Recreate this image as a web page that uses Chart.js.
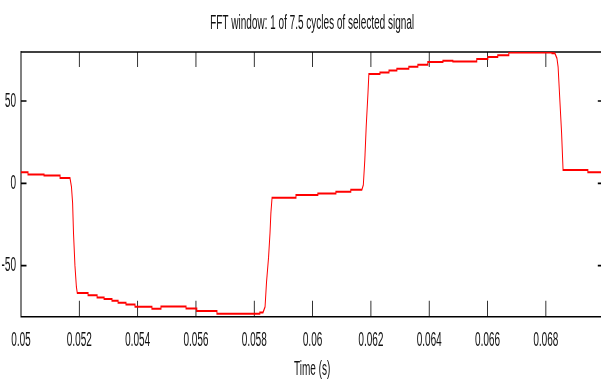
<!DOCTYPE html>
<html>
<head>
<meta charset="utf-8">
<title>FFT window</title>
<script src="https://cdn.jsdelivr.net/npm/chart.js@4/dist/chart.umd.min.js"></script>
<style>
  html, body { margin: 0; padding: 0; background: #fff; overflow: hidden; }
</style>
</head>
<body>
<!-- drawn at double width and squeezed back by css, like the exported figure -->
<canvas id="fftChart" width="1210" height="385" style="width:605px;height:385px"></canvas>
<script>
// selected signal, one window (time in s)
const timeS = [
  0.05000, 0.05024, 0.05024, 0.05079, 0.05079, 0.05134, 0.05134, 0.05168,
  0.05173, 0.05177, 0.05180, 0.05185, 0.05190, 0.05193,
  0.05230, 0.05230, 0.05261, 0.05261, 0.05285, 0.05285, 0.05312, 0.05312,
  0.05333, 0.05333, 0.05360, 0.05360, 0.05391, 0.05391, 0.05449, 0.05449,
  0.05480, 0.05480, 0.05566, 0.05566, 0.05603, 0.05603, 0.05672, 0.05672,
  0.05819, 0.05819, 0.05830,
  0.05837, 0.05842, 0.05849, 0.05854, 0.05857, 0.05861,
  0.05943, 0.05943, 0.06018, 0.06018, 0.06080, 0.06080, 0.06131, 0.06131,
  0.06169, 0.06174, 0.06179, 0.06184, 0.06190, 0.06193,
  0.06231, 0.06231, 0.06262, 0.06262, 0.06289, 0.06289, 0.06330, 0.06330,
  0.06361, 0.06361, 0.06395, 0.06395, 0.06447, 0.06447, 0.06481, 0.06481,
  0.06563, 0.06563, 0.06601, 0.06601, 0.06635, 0.06635, 0.06673, 0.06673,
  0.06821, 0.06821, 0.06831,
  0.06838, 0.06842, 0.06848, 0.06854, 0.06859,
  0.06944, 0.06944, 0.06997
];
const signal = [
  6.8, 6.8, 5.4, 5.4, 4.8, 4.8, 3.2, 3.2,
  -2, -12, -30, -50, -63, -66.6,
  -66.6, -67.9, -67.9, -69.3, -69.3, -70.3, -70.3, -71.3,
  -71.3, -72.5, -72.5, -73.6, -73.6, -75.0, -75.0, -76.2,
  -76.2, -74.8, -74.8, -76.0, -76.0, -77.6, -77.6, -79.2,
  -79.2, -78.4, -78.4,
  -75, -60, -45, -30, -18, -8.7,
  -8.7, -7.1, -7.1, -6.1, -6.1, -5.1, -5.1, -3.9,
  -3.9, -1, 14, 35, 55, 66.4,
  66.4, 67.3, 67.3, 68.5, 68.5, 69.7, 69.7, 70.9,
  70.9, 72.1, 72.1, 73.7, 73.7, 74.5, 74.5, 74.1,
  74.1, 75.5, 75.5, 76.7, 76.7, 77.9, 77.9, 79.5,
  79.5, 79.0, 79.0,
  76, 70.7, 50.5, 30.4, 8.1,
  8.1, 6.7, 6.7
];

const xTickValues = [0.05, 0.052, 0.054, 0.056, 0.058, 0.06, 0.062, 0.064, 0.066, 0.068];
const xTickLabels = ['0.05', '0.052', '0.054', '0.056', '0.058', '0.06', '0.062', '0.064', '0.066', '0.068'];
const yTickValues = [-50, 0, 50];
const yTickLabels = ['-50', '0', '50'];

const xRange = [0.05, 0.06997];
const yRange = [-81, 79.8];

const fontFamily = "'Liberation Sans', Arial, Helvetica, sans-serif";
const tickFont = { family: fontFamily, size: 20 };

// matlab style box: top/right edges and inward tick marks on all sides
const boxTicks = {
  id: 'boxTicks',
  beforeDatasetsDraw(chart) {
    const { ctx, chartArea: a, scales: { x, y } } = chart;
    ctx.save();
    ctx.strokeStyle = '#000';

    ctx.lineWidth = 1.6;
    ctx.beginPath();
    ctx.moveTo(a.left, a.top);
    ctx.lineTo(a.right, a.top);
    ctx.stroke();
    ctx.lineWidth = 2;
    ctx.beginPath();
    ctx.moveTo(a.right, a.top);
    ctx.lineTo(a.right, a.bottom);
    ctx.stroke();

    ctx.lineWidth = 1.6;
    ctx.beginPath();
    x.ticks.forEach(t => {
      const px = x.getPixelForValue(t.value);
      ctx.moveTo(px, a.bottom);
      ctx.lineTo(px, a.bottom - 16);
      ctx.moveTo(px, a.top);
      ctx.lineTo(px, a.top + 15);
    });
    y.ticks.forEach(t => {
      const py = y.getPixelForValue(t.value);
      ctx.moveTo(a.left, py);
      ctx.lineTo(a.left + 11, py);
      ctx.moveTo(a.right, py);
      ctx.lineTo(a.right - 11, py);
    });
    ctx.stroke();
    ctx.restore();
  }
};

new Chart(document.getElementById('fftChart'), {
  type: 'scatter',
  data: {
    datasets: [{
      label: 'signal',
      data: timeS.map((t, i) => ({ x: t, y: signal[i] })),
      showLine: true,
      borderColor: '#ff0000',
      borderWidth: 2,
      pointRadius: 0,
      tension: 0
    }]
  },
  options: {
    responsive: false,
    animation: false,
    layout: { padding: { left: 0, right: 3.4, top: 0, bottom: 0 } },
    plugins: {
      legend: { display: false },
      tooltip: { enabled: false },
      title: {
        display: true,
        text: 'FFT window: 1 of 7.5 cycles of selected signal',
        fullSize: false,
        color: '#111',
        font: { family: fontFamily, size: 20, weight: 'normal' },
        padding: { top: 11, bottom: 17 }
      }
    },
    scales: {
      x: {
        type: 'linear',
        min: xRange[0],
        max: xRange[1],
        afterBuildTicks: s => { s.ticks = xTickValues.map(v => ({ value: v })); },
        afterFit: s => { s.height = 68.3; },
        ticks: {
          callback: (v, i) => xTickLabels[i],
          color: '#111',
          font: tickFont,
          padding: 12,
          maxRotation: 0,
          autoSkip: false
        },
        grid: { drawOnChartArea: false, drawTicks: false },
        border: { display: true, color: '#000', width: 1.6 },
        title: {
          display: true,
          text: 'Time (s)',
          color: '#111',
          font: { family: fontFamily, size: 20 },
          padding: { top: 0, bottom: 4 }
        }
      },
      y: {
        type: 'linear',
        min: yRange[0],
        max: yRange[1],
        afterBuildTicks: s => { s.ticks = yTickValues.map(v => ({ value: v })); },
        afterFit: s => { s.width = 42; },
        ticks: {
          callback: (v, i) => yTickLabels[i],
          color: '#111',
          font: tickFont,
          padding: 10
        },
        grid: { drawOnChartArea: false, drawTicks: false },
        border: { display: true, color: '#000', width: 2 }
      }
    }
  },
  plugins: [boxTicks]
});
</script>
</body>
</html>
